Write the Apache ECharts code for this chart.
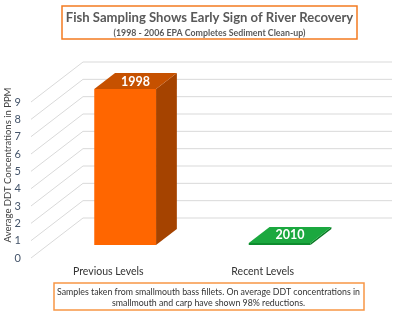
<!DOCTYPE html>
<html>
<head>
<meta charset="utf-8">
<script src="https://cdn.jsdelivr.net/npm/echarts@6/dist/echarts.min.js"></script>
<style>
html,body{margin:0;padding:0;background:#fff;}
#c{width:415px;height:328px;}
</style>
</head>
<body>
<div id="c"></div>
<script>
// ---- data ----
const categories = ['Previous Levels', 'Recent Levels'];
const values = [9.0, 0.12];
const barLabels = ['1998', '2010'];
const yTicks = [0, 1, 2, 3, 4, 5, 6, 7, 8, 9];
const titleText = 'Fish Sampling Shows Early Sign of River Recovery';
const subtitleText = '(1998 - 2006 EPA Completes Sediment Clean-up)';
const yAxisTitle = 'Average DDT Concentrations in PPM';
const noteLines = ['Samples taken from smallmouth bass fillets. On average DDT concentrations in',
                   'smallmouth and carp have shown 98% reductions.'];

// ---- styling / projection ----
const DX = 52, DY = -40;       // depth vector of the 3D box
const F1 = 0.325, F2 = 0.725;  // bar depth range
const faceColors = [
  {front: '#FF6600', top: '#C65100', side: '#A54300'},
  {front: '#0E8C2E', top: '#1BA83F', side: '#0A7A25'}
];
const FONT = 'Lato, "Open Sans", sans-serif';

const chart = echarts.init(document.getElementById('c'), null, {renderer: 'canvas'});

const option = {
  animation: false,
  grid: {left: 31, right: 75, top: 102, bottom: 70, containLabel: false},
  xAxis: {
    type: 'category',
    data: categories,
    axisLine: {show: false},
    axisTick: {show: false},
    axisLabel: {color: '#333333', fontSize: 10.5, fontFamily: FONT, margin: 8}
  },
  yAxis: {
    type: 'value',
    min: 0, max: yTicks[yTicks.length - 1], interval: 1,
    axisLine: {show: false},
    axisTick: {show: false},
    splitLine: {show: false},
    axisLabel: {color: '#44546A', fontSize: 11, fontFamily: FONT, margin: 10}
  },
  graphic: [
    {type: 'rect', shape: {x: 62, y: 6, width: 295, height: 33},
     style: {fill: '#fff', stroke: '#F47B20', lineWidth: 1.5}},
    {type: 'text', x: 209.5, y: 17.5,
     style: {text: titleText, fill: '#595959', font: 'bold 13.1px ' + FONT, align: 'center', verticalAlign: 'middle'}},
    {type: 'text', x: 209.5, y: 33.3,
     style: {text: subtitleText, fill: '#595959', font: 'bold 8.8px ' + FONT, align: 'center', verticalAlign: 'middle'}},
    {type: 'text', x: 8, y: 165, rotation: Math.PI / 2,
     style: {text: yAxisTitle, fill: '#404040', font: '9.5px ' + FONT, align: 'center', verticalAlign: 'middle'}},
    {type: 'rect', shape: {x: 54, y: 283, width: 310, height: 27},
     style: {fill: '#fff', stroke: '#F79646', lineWidth: 1.5}},
    {type: 'text', x: 208.5, y: 291.8,
     style: {text: noteLines[0], fill: '#333333', font: '8.8px ' + FONT, align: 'center', verticalAlign: 'middle'}},
    {type: 'text', x: 208.5, y: 303.3,
     style: {text: noteLines[1], fill: '#333333', font: '8.8px ' + FONT, align: 'center', verticalAlign: 'middle'}}
  ],
  series: [
    {
      type: 'custom',
      silent: true,
      z: 1,
      data: yTicks.map(v => [0, v]),
      renderItem: function (params, api) {
        const cs = params.coordSys;
        const y = api.coord([0, api.value(1)])[1];
        const x0 = cs.x, x1 = cs.x + cs.width;
        return {
          type: 'polyline',
          shape: {points: [[x0, y], [x0 + DX, y + DY], [x1 + DX, y + DY]]},
          style: {stroke: '#D9D9D9', lineWidth: 1, fill: null}
        };
      }
    },
    {
      type: 'custom',
      z: 2,
      data: values.map((v, i) => [i, v]),
      renderItem: function (params, api) {
        const i = api.value(0);
        const p0 = api.coord([i, 0]);
        const p1 = api.coord([i, api.value(1)]);
        const bw = api.size([1, 0])[0] * 0.4;
        const x0 = p0[0] - bw / 2 + DX * F1, x1 = x0 + bw;
        const yb = p0[1] + DY * F1, yt = p1[1] + DY * F1;
        const ddx = DX * (F2 - F1), ddy = DY * (F2 - F1);
        const c = faceColors[params.dataIndex];
        return {
          type: 'group',
          children: [
            {type: 'polygon', shape: {points: [[x1, yt], [x1 + ddx, yt + ddy], [x1 + ddx, yb + ddy], [x1, yb]]},
             style: {fill: c.side}},
            {type: 'polygon', shape: {points: [[x0, yt], [x1, yt], [x1 + ddx, yt + ddy], [x0 + ddx, yt + ddy]]},
             style: {fill: c.top}},
            {type: 'rect', shape: {x: x0, y: yt, width: bw, height: yb - yt},
             style: {fill: c.front}},
            {type: 'text', x: (x0 + x1) / 2 + ddx / 2, y: yt + ddy / 2 + 0.5,
             style: {text: barLabels[params.dataIndex], fill: '#ffffff', font: 'bold 12.5px ' + FONT,
                     align: 'center', verticalAlign: 'middle'}}
          ]
        };
      }
    }
  ]
};
chart.setOption(option);
</script>
</body>
</html>
